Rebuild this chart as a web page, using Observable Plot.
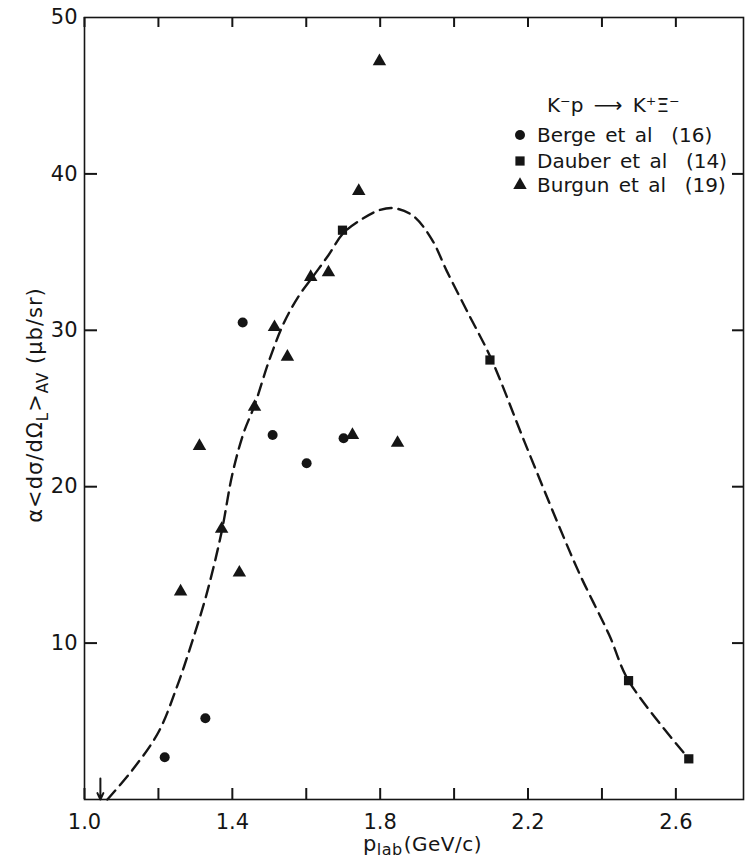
<!DOCTYPE html>
<html>
<head>
<meta charset="utf-8">
<script src="https://cdn.jsdelivr.net/npm/d3@7"></script>
<script src="https://cdn.jsdelivr.net/npm/@observablehq/plot@0.6"></script>
<style>
  body { margin: 0; background: #fff; }
  #chart svg { display: block; }
</style>
</head>
<body>
<div id="chart"></div>
<script>
// ---- Data ----
const bergeX = [1.217, 1.327, 1.428, 1.509, 1.601, 1.701];
const bergeY = [2.7, 5.2, 30.5, 23.3, 21.5, 23.1];

const dauberX = [1.698, 2.097, 2.472, 2.635];
const dauberY = [36.4, 28.1, 7.6, 2.6];

const burgunX = [1.260, 1.311, 1.371, 1.419, 1.460, 1.514, 1.549, 1.612, 1.660, 1.725, 1.742, 1.798, 1.847];
const burgunY = [13.3, 22.6, 17.3, 14.5, 25.1, 30.2, 28.3, 33.4, 33.7, 23.3, 38.9, 47.2, 22.8];

// dashed model curve
const curveX = [1.062, 1.13, 1.20, 1.25, 1.29, 1.33, 1.37, 1.40, 1.43, 1.46, 1.50, 1.54, 1.58, 1.62, 1.66, 1.70, 1.75, 1.80, 1.84, 1.89, 1.94, 1.98, 2.04, 2.10, 2.19, 2.28, 2.34, 2.42, 2.472, 2.635];
const curveY = [0.0, 1.9, 4.3, 7.2, 10.0, 13.1, 17.0, 20.8, 23.4, 25.2, 28.1, 30.5, 32.2, 33.5, 34.8, 36.2, 37.1, 37.7, 37.8, 37.3, 35.8, 33.8, 31.0, 28.2, 22.9, 17.7, 14.4, 10.5, 7.6, 2.6];

// threshold arrow
const thresholdX = [1.043];
const thresholdTop = [1.35];

// ticks and labels
const xTicks = [1.0, 1.2, 1.4, 1.6, 1.8, 2.0, 2.2, 2.4, 2.6];
const xTickLabels = ["1.0", "", "1.4", "", "1.8", "", "2.2", "", "2.6"];
const yTicks = [10, 20, 30, 40, 50];
const yTickLabels = ["10", "20", "30", "40", "50"];

const seriesNames = ["Berge et al  (16)", "Dauber et al  (14)", "Burgun et al  (19)"];
const seriesSymbols = ["circle", "square", "triangle"];
const reactionTitle = "K\u207Bp \u27F6 K\u207A\u039E\u207B";

// ---- Build tables ----
const berge = bergeX.map((x, i) => ({x, y: bergeY[i]}));
const dauber = dauberX.map((x, i) => ({x, y: dauberY[i]}));
const burgun = burgunX.map((x, i) => ({x, y: burgunY[i]}));
const curve = curveX.map((x, i) => ({x, y: curveY[i]}));
const threshold = thresholdX.map((x, i) => ({x, top: thresholdTop[i]}));

const ink = "#151515";
const font = "'DejaVu Sans', sans-serif";

const W = 745, H = 859, ML = 84, MR = 2, MT = 17, MB = 60;
const frameW = W - ML - MR, frameH = H - MT - MB;
const tickStyle = {stroke: ink, strokeWidth: 2};

const svg = Plot.plot({
  width: W,
  height: H,
  marginLeft: ML,
  marginRight: MR,
  marginTop: MT,
  marginBottom: MB,
  style: {fontFamily: font, fontSize: "21px", color: ink, background: "#fff"},
  x: {domain: [1.0, 2.783]},
  y: {domain: [0, 50]},
  marks: [
    Plot.frame({stroke: ink, strokeWidth: 1.6}),
    // tick labels
    Plot.axisX({anchor: "bottom", ticks: xTicks, tickSize: 0, tickPadding: 15,
      tickFormat: d => xTickLabels[xTicks.indexOf(d)] ?? "", label: null}),
    Plot.axisY({anchor: "left", ticks: yTicks, tickSize: 0, tickPadding: 7,
      tickFormat: d => yTickLabels[yTicks.indexOf(d)] ?? "", label: null}),
    // inward ticks on all four sides (short rules via insets)
    Plot.ruleX(xTicks, {x: d => d, insetTop: frameH - 11, ...tickStyle}),
    Plot.ruleX(xTicks, {x: d => d, insetBottom: frameH - 10, ...tickStyle}),
    Plot.ruleY(yTicks.slice(0, 4), {y: d => d, insetRight: frameW - 13, ...tickStyle}),
    Plot.ruleY(yTicks.slice(0, 4), {y: d => d, insetLeft: frameW - 11, ...tickStyle}),
    // model curve
    Plot.line(curve, {x: "x", y: "y", curve: "catmull-rom", stroke: ink, strokeWidth: 2.4, strokeDasharray: "12,7"}),
    // threshold arrow
    Plot.arrow(threshold, {x1: "x", x2: "x", y1: "top", y2: 0, stroke: ink, strokeWidth: 2, headLength: 8, headAngle: 50}),
    // data
    Plot.dot(berge, {x: "x", y: "y", symbol: "circle", r: 5, fill: ink}),
    Plot.dot(dauber, {x: "x", y: "y", symbol: "square", r: 5.2, fill: ink}),
    Plot.dot(burgun, {x: "x", y: "y", symbol: "triangle", r: 5, fill: ink})
  ]
});

document.getElementById("chart").appendChild(svg);

// ---- Axis titles & legend (text added to the same SVG) ----
const s = d3.select(svg);

// x-axis title: p_lab(GeV/c)
const xt = s.append("text")
  .attr("x", 363).attr("y", 851).attr("text-anchor", "start")
  .attr("fill", ink).style("font-family", font).style("font-size", "21px")
  .style("letter-spacing", "0.5px");
xt.append("tspan").text("p");
xt.append("tspan").attr("dy", 4).style("font-size", "16px").text("lab");
xt.append("tspan").attr("dy", -4).style("font-size", "20px").attr("dx", 1).text("(GeV/c)");

// y-axis title: α<dσ/dΩ_L>_AV (μb/sr)
const yt = s.append("text")
  .attr("transform", "translate(42,405) rotate(-90)")
  .attr("text-anchor", "middle")
  .attr("fill", ink).style("font-family", font).style("font-size", "21px")
  .style("letter-spacing", "1px");
yt.append("tspan").text("\u03B1<d\u03C3/d\u03A9");
yt.append("tspan").attr("dy", 6).style("font-size", "15px").text("L");
yt.append("tspan").attr("dy", -6).text(">");
yt.append("tspan").attr("dy", 6).style("font-size", "15px").text("AV");
yt.append("tspan").attr("dy", -6).text(" (\u03BCb/sr)");

// legend
const lg = s.append("g").attr("fill", ink).attr("text-anchor", "start")
  .style("font-family", font).style("font-size", "20px");
lg.append("text").attr("x", 547).attr("y", 112).style("word-spacing", "4px").text(reactionTitle);
const rowY = [135, 161, 185];
const symMap = {circle: d3.symbolCircle, square: d3.symbolSquare, triangle: d3.symbolTriangle};
const symSize = {circle: Math.PI * 25, square: Math.PI * 5.2 * 5.2, triangle: Math.PI * 25};
seriesNames.forEach((name, i) => {
  lg.append("path")
    .attr("transform", `translate(520,${rowY[i]})`)
    .attr("d", d3.symbol(symMap[seriesSymbols[i]], symSize[seriesSymbols[i]])());
  lg.append("text").attr("x", 537).attr("y", rowY[i] + 7).style("word-spacing", "3px").text(name);
});
</script>
</body>
</html>
